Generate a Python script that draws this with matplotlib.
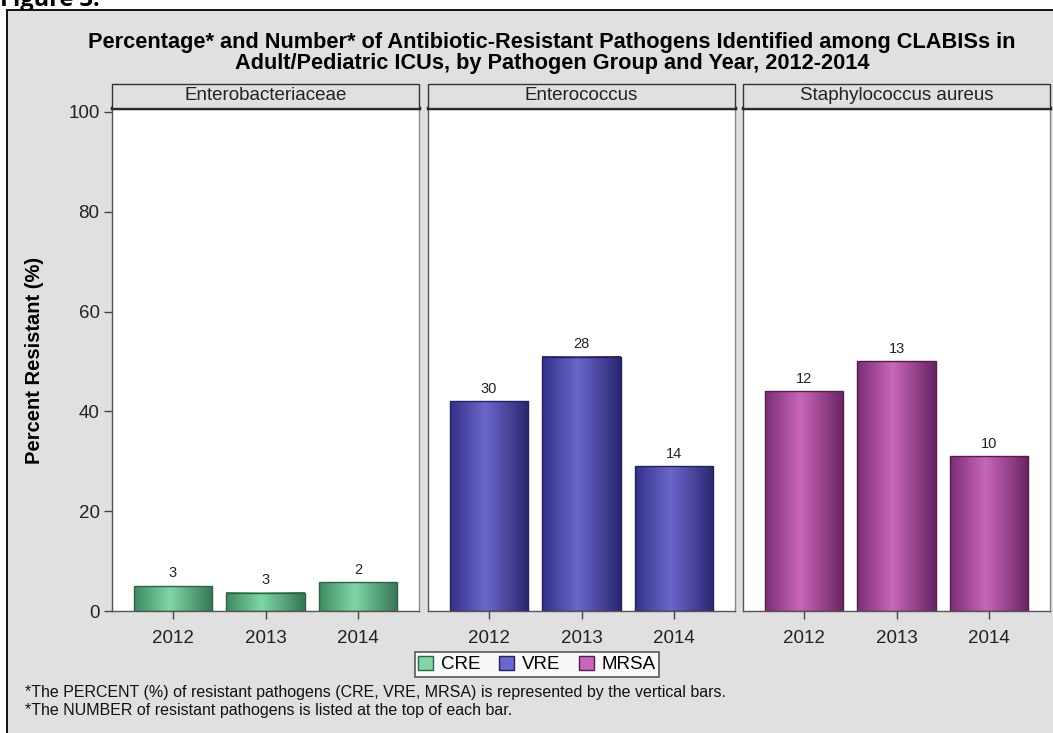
import matplotlib.pyplot as plt
import numpy as np
from matplotlib.colors import LinearSegmentedColormap
from matplotlib.patches import Rectangle, Patch

plt.rcParams['font.family'] = ['Liberation Sans', 'DejaVu Sans']

years = ['2012', '2013', '2014']
groups = ['Enterobacteriaceae', 'Enterococcus', 'Staphylococcus aureus']
resist = ['CRE', 'VRE', 'MRSA']

# percent resistant (bar heights) and number resistant (labels)
pct_cre = [5, 3.7, 5.8]
pct_vre = [42, 51, 29]
pct_mrsa = [44, 50, 31]
num_cre = [3, 3, 2]
num_vre = [30, 28, 14]
num_mrsa = [12, 13, 10]

pcts = [pct_cre, pct_vre, pct_mrsa]
nums = [num_cre, num_vre, num_mrsa]

# (left edge, highlight, right edge, outline)
shades = [
    ('#3d8a60', '#80d6a6', '#357654', '#2c6446'),
    ('#34318a', '#6b67cc', '#2a2770', '#242162'),
    ('#7b2e74', '#c966ba', '#682462', '#541d50'),
]

W, H = 1053, 733
fig = plt.figure(figsize=(W / 100, H / 100), dpi=100)
fig.patch.set_facecolor('white')

# grey frame behind the whole chart
fig.patches.append(Rectangle((7 / W, -0.02), 1.1, 1 - 10 / H + 0.02, transform=fig.transFigure,
                             facecolor='#e0e0e0', edgecolor='black', lw=1.3, zorder=-5))
fig.text(0, 1 - 6 / H, 'Figure 3.', fontsize=17, fontweight='bold', va='baseline', ha='left',
         family=['Open Sans', 'DejaVu Sans'], zorder=-10)

fig.text(552 / W, 1 - 53 / H,
         'Percentage* and Number* of Antibiotic-Resistant Pathogens Identified among CLABISs in\n'
         'Adult/Pediatric ICUs, by Pathogen Group and Year, 2012-2014',
         ha='center', va='center', fontsize=15.7, fontweight='bold', linespacing=1.04, color='black')

lefts = [112, 428, 743]
pw = 307
bottom_px, top_px = 611, 108
strip_h = 24 / (bottom_px - top_px)
x = np.arange(len(years))
grad = np.linspace(0, 1, 256).reshape(1, -1)

for i, left in enumerate(lefts):
    ax = fig.add_axes([left / W, (H - bottom_px) / H, pw / W, (bottom_px - top_px) / H])
    ax.set_facecolor('white')
    c0, c1, c2, ce = shades[i]
    cmap = LinearSegmentedColormap.from_list(resist[i], [(0, c0), (0.45, c1), (1, c2)])
    width = 0.85
    for xi, v in zip(x, pcts[i]):
        ax.imshow(grad, extent=[xi - width / 2, xi + width / 2, 0, v], aspect='auto',
                  cmap=cmap, zorder=2, interpolation='bicubic')
    ax.bar(x, pcts[i], width=width, fill=False, edgecolor=ce, lw=1, zorder=3)
    for xi, v, n in zip(x, pcts[i], nums[i]):
        ax.annotate(str(n), (xi, v), xytext=(0, 4), textcoords='offset points',
                    ha='center', va='bottom', fontsize=10.5, color='#222222')

    ax.set_xlim(-0.66, 2.66)
    ax.set_ylim(0, 100.8)
    ax.set_xticks(x)
    ax.set_xticklabels(years)
    ax.tick_params(axis='x', length=6, width=1, color='#444444', labelsize=13.5,
                   labelcolor='#222222', pad=8)
    if i == 0:
        ax.set_yticks([0, 20, 40, 60, 80, 100])
        ax.tick_params(axis='y', length=6, width=1, color='#444444', labelsize=13.5,
                       labelcolor='#222222', pad=3)
    else:
        ax.set_yticks([])
    for side in ['left', 'bottom']:
        ax.spines[side].set_color('#555555')
        ax.spines[side].set_linewidth(1)
    ax.spines['right'].set_color('#888888')
    ax.spines['right'].set_linewidth(1)
    ax.spines['top'].set_color('#222222')
    ax.spines['top'].set_linewidth(2.5)

    # panel header strip
    ax.add_patch(Rectangle((0, 1), 1, strip_h, transform=ax.transAxes, clip_on=False,
                           facecolor='#e0e0e0', edgecolor='#333333', lw=1, zorder=5))
    ax.text(0.5, 1 + strip_h / 2, groups[i], transform=ax.transAxes, ha='center', va='center',
            fontsize=13.5, color='#222222', zorder=6)

fig.text(35 / W, 1 - 360 / H, 'Percent Resistant (%)', rotation=90, ha='center', va='center',
         fontsize=14.5, fontweight='bold', color='black')

handles = [Patch(facecolor=s[1], edgecolor=s[3], lw=1) for s in shades]
leg = fig.legend(handles, resist, loc='center', bbox_to_anchor=(537 / W, 1 - 664.5 / H),
                 ncol=3, fontsize=13.5, frameon=True, fancybox=False, handlelength=0.8,
                 handleheight=0.8, handletextpad=0.4, columnspacing=1.0, borderpad=0.2)
leg.get_frame().set_edgecolor('#333333')
leg.get_frame().set_linewidth(1.2)
leg.get_frame().set_facecolor('white')

fig.text(25 / W, 1 - 692 / H,
         '*The PERCENT (%) of resistant pathogens (CRE, VRE, MRSA) is represented by the vertical bars.',
         ha='left', va='center', fontsize=11.5, color='#111111')
fig.text(25 / W, 1 - 711 / H,
         '*The NUMBER of resistant pathogens is listed at the top of each bar.',
         ha='left', va='center', fontsize=11.5, color='#111111')

fig.savefig('out.png', dpi=100)
